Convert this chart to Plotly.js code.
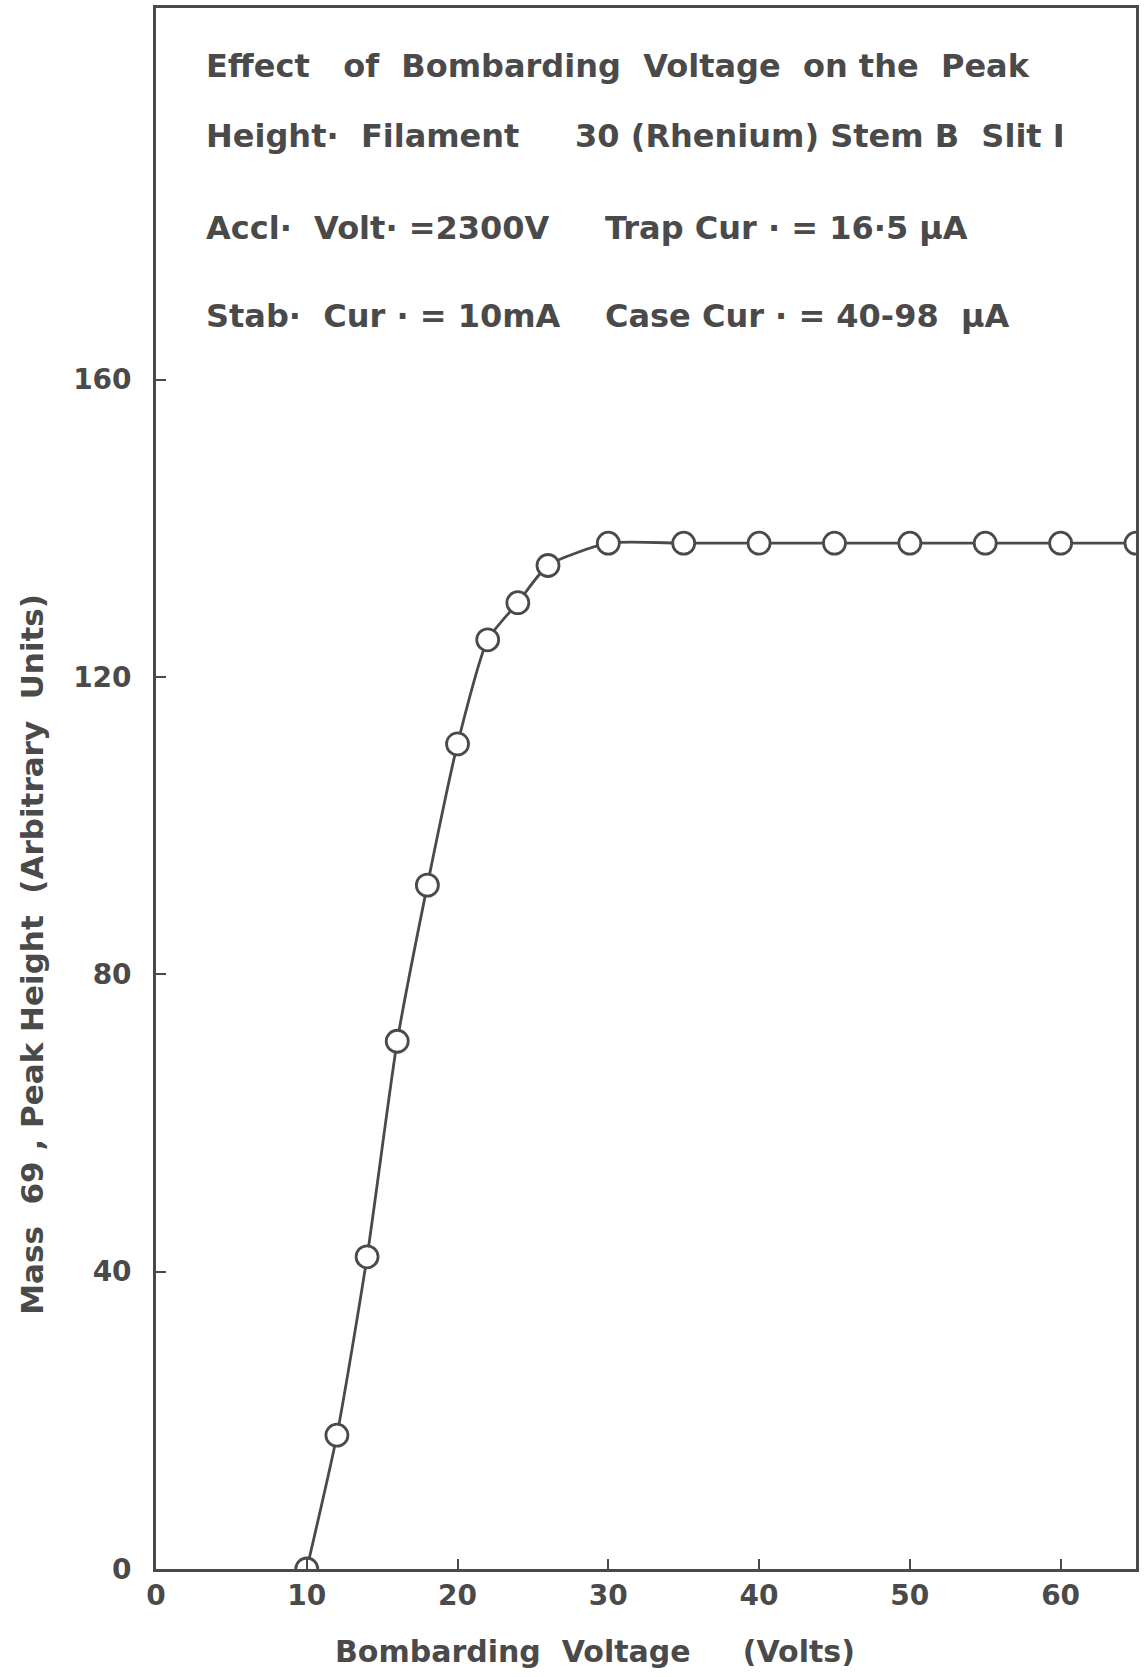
<!DOCTYPE html>
<html>
<head>
<meta charset="utf-8">
<script src="https://cdn.plot.ly/plotly-3.0.1.min.js"></script>
<style>html,body{margin:0;padding:0;background:#fff;}#chart{width:1145px;height:1677px;}</style>
</head>
<body>
<div id="chart"></div>
<script>
// Data
const voltage = [10, 12, 14, 16, 18, 20, 22, 24, 26, 30, 35, 40, 45, 50, 55, 60, 65];
const peakHeight = [0, 18, 42, 71, 92, 111, 125, 130, 135, 138, 138, 138, 138, 138, 138, 138, 138];
const xTicks = [0, 10, 20, 30, 40, 50, 60];
const yTicks = [0, 40, 80, 120, 160];
const infoLines = [
  "Effect&nbsp;&nbsp; of&nbsp; Bombarding&nbsp; Voltage&nbsp; on the&nbsp; Peak",
  "Height·&nbsp; Filament&nbsp;&nbsp;&nbsp;&nbsp; 30 (Rhenium) Stem B&nbsp; Slit I",
  "Accl·&nbsp; Volt· =2300V&nbsp;&nbsp;&nbsp;&nbsp; Trap Cur · = 16·5 μA",
  "Stab·&nbsp; Cur · = 10mA&nbsp;&nbsp;&nbsp; Case Cur · = 40-98&nbsp; μA"
];
const xTitle = "Bombarding&nbsp; Voltage&nbsp;&nbsp;&nbsp;&nbsp; (Volts)";
const yTitle = "Mass&nbsp; 69 , Peak Height&nbsp; (Arbitrary&nbsp; Units)";

const ink = "#4a4a4a";
const fontFam = "DejaVu Sans, Arial, sans-serif";

const trace = {
  x: voltage, y: peakHeight, type: "scatter", mode: "lines+markers",
  line: {shape: "spline", smoothing: 0.6, color: ink, width: 2.8},
  marker: {symbol: "circle", size: 22, color: "#ffffff", line: {color: ink, width: 2.8}},
  hoverinfo: "x+y"
};

const lineY = [0.963, 0.918, 0.859, 0.803];
const annotations = infoLines.map((t, i) => ({
  text: t, xref: "paper", yref: "paper", x: 0.049, y: lineY[i],
  xanchor: "left", yanchor: "middle", showarrow: false,
  font: {family: fontFam, size: 32, color: ink, weight: "bold"}
}));
annotations.push({
  text: xTitle, xref: "paper", yref: "paper", x: 0.448, y: -0.053,
  xanchor: "center", yanchor: "middle", showarrow: false,
  font: {family: fontFam, size: 30, color: ink, weight: "bold"}
});
annotations.push({
  text: yTitle, xref: "paper", yref: "paper", x: -0.1265, y: 0.3935,
  xanchor: "center", yanchor: "middle", showarrow: false, textangle: -90,
  font: {family: fontFam, size: 31, color: ink, weight: "bold"}
});

const layout = {
  width: 1145, height: 1677,
  margin: {l: 156, r: 9, t: 8, b: 108},
  paper_bgcolor: "#ffffff", plot_bgcolor: "#ffffff",
  showlegend: false,
  xaxis: {
    range: [0, 65], tickvals: xTicks, ticktext: xTicks.map(String),
    ticks: "inside", ticklen: 10, tickwidth: 2, tickcolor: ink,
    showline: true, mirror: true, linecolor: ink, linewidth: 2.8,
    showgrid: false, zeroline: false,
    tickfont: {family: fontFam, size: 28, color: ink, weight: "bold"}
  },
  yaxis: {
    range: [0, 210], tickvals: yTicks, ticktext: yTicks.map(String),
    ticks: "inside", ticklen: 10, tickwidth: 2, tickcolor: ink,
    ticklabelstandoff: 16,
    showline: true, mirror: true, linecolor: ink, linewidth: 2.8,
    showgrid: false, zeroline: false,
    tickfont: {family: fontFam, size: 28, color: ink, weight: "bold"}
  },
  annotations: annotations
};

Plotly.newPlot("chart", [trace], layout, {displayModeBar: false, staticPlot: true});
</script>
</body>
</html>
